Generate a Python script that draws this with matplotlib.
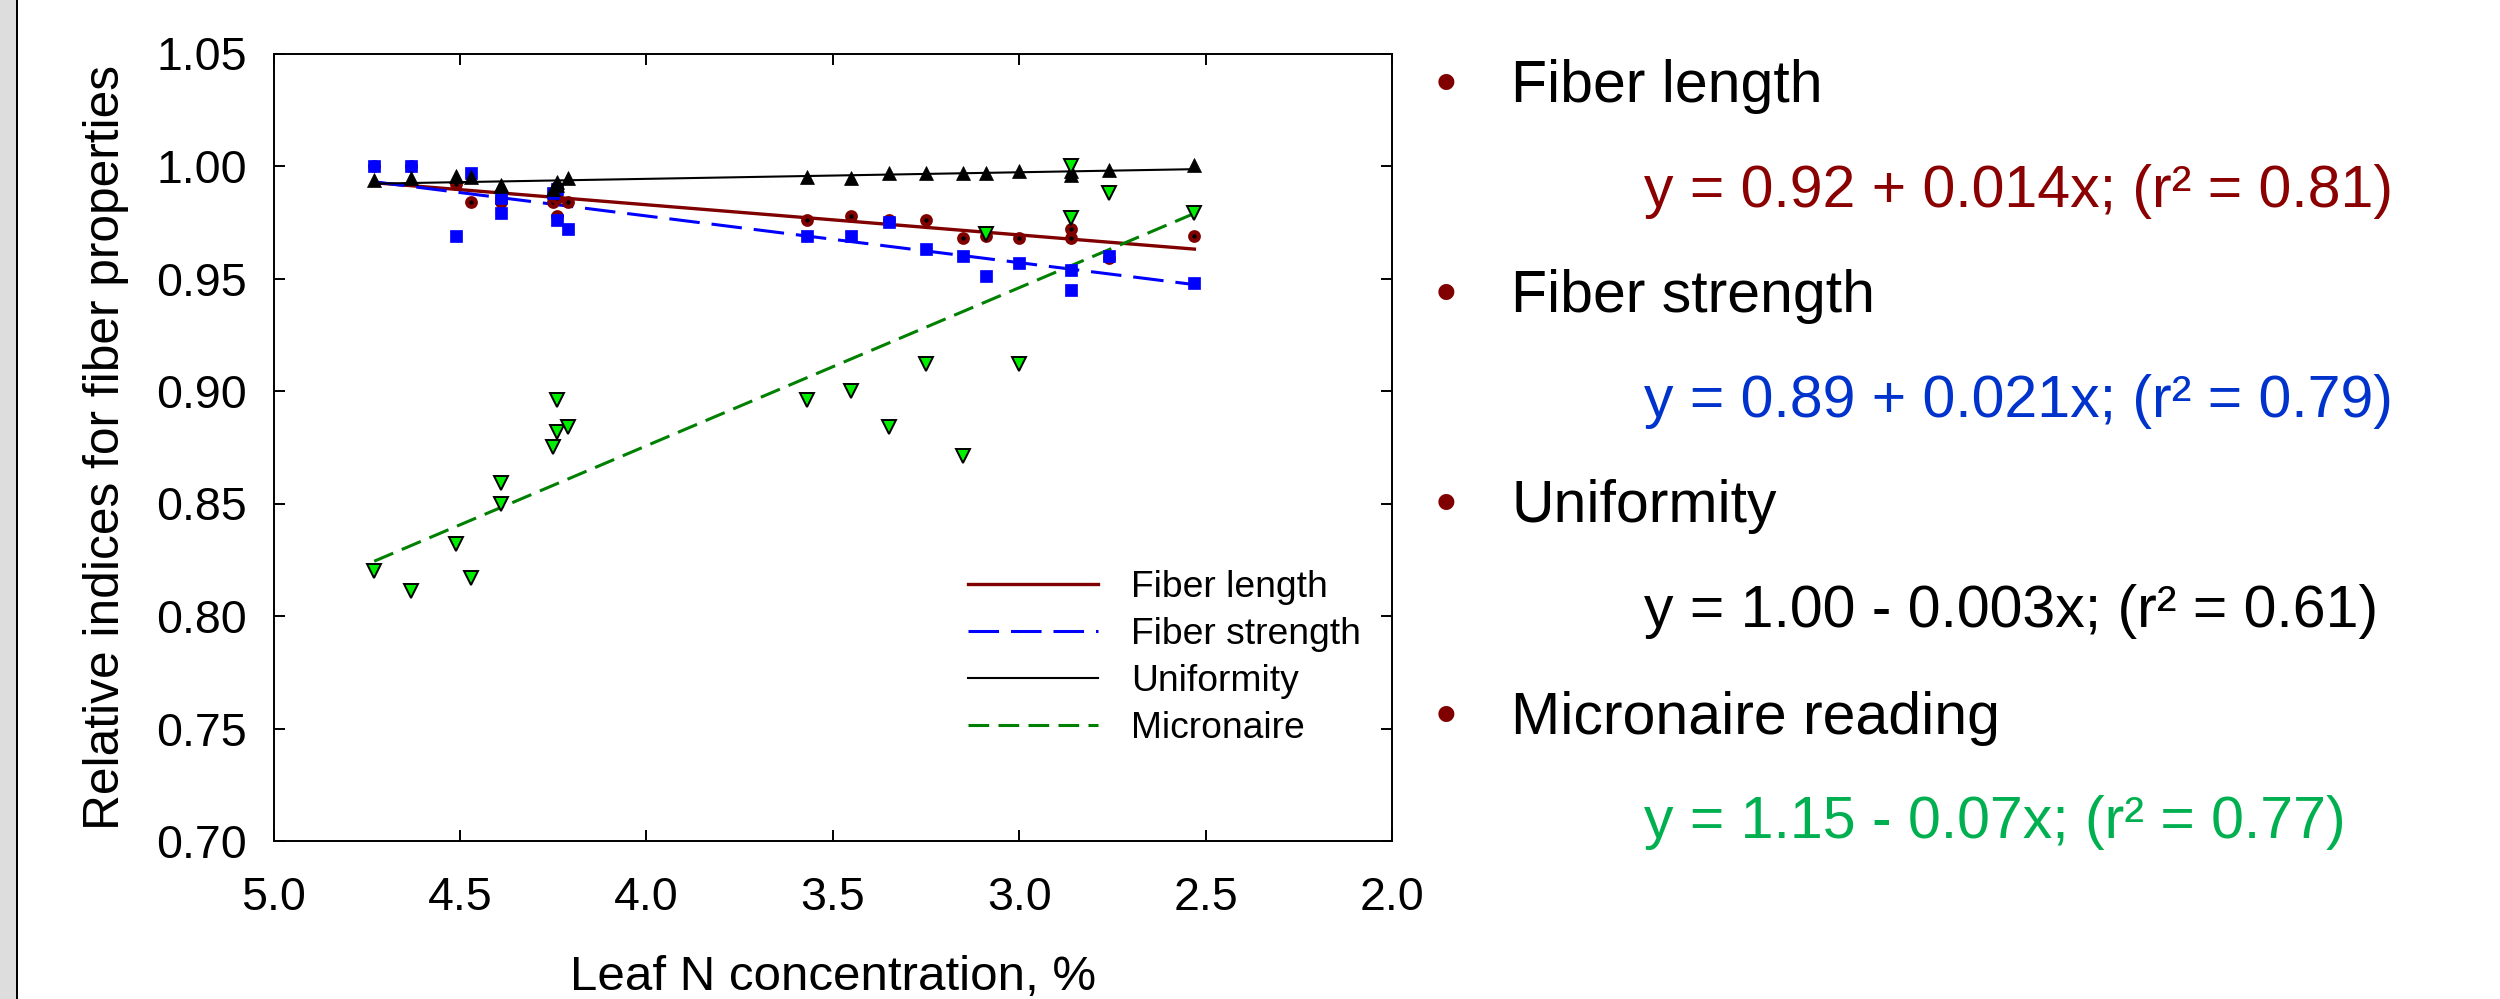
import numpy as np
import matplotlib
matplotlib.use("Agg")
import matplotlib.pyplot as plt
from matplotlib.patches import Rectangle

plt.rcParams['font.family'] = ['Liberation Sans', 'DejaVu Sans']
plt.rcParams['lines.scale_dashes'] = False

# Leaf N concentration (%) and relative fiber property indices
leaf_n = [4.73, 4.63, 4.51, 4.47, 4.39, 4.39, 4.25, 4.24, 4.24, 4.21, 3.57,
          3.45, 3.35, 3.25, 3.15, 3.09, 3.00, 2.86, 2.86, 2.76, 2.53]
fiber_length = [1.000, 1.000, 0.992, 0.984, 0.984, 0.986, 0.984, 0.978, 0.986,
                0.984, 0.976, 0.978, 0.976, 0.976, 0.968, 0.969, 0.968, 0.972,
                0.968, 0.959, 0.969]
fiber_strength = [1.000, 1.000, 0.969, 0.997, 0.979, 0.986, 0.988, 0.976, 0.990,
                  0.972, 0.969, 0.969, 0.975, 0.963, 0.960, 0.951, 0.957, 0.954,
                  0.945, 0.960, 0.948]
uniformity = [0.9936, 0.9945, 0.9956, 0.9950, 0.9910, 0.9915, 0.9900, 0.9928,
              0.9915, 0.9948, 0.9953, 0.9946, 0.9968, 0.9968, 0.9968, 0.9968,
              0.9976, 0.9980, 0.9960, 0.9983, 1.0005]
micronaire = [0.820, 0.811, 0.832, 0.817, 0.859, 0.850, 0.875, 0.896, 0.882,
              0.884, 0.896, 0.900, 0.884, 0.912, 0.871, 0.970, 0.912, 1.000,
              0.977, 0.988, 0.979]

series_names = ["Fiber length", "Fiber strength", "Uniformity", "Micronaire"]
panel_titles = ["Fiber length", "Fiber strength", "Uniformity", "Micronaire reading"]
panel_equations = ["y = 0.92 + 0.014x; (r\u00b2 = 0.81)",
                   "y = 0.89 + 0.021x; (r\u00b2 = 0.79)",
                   "y = 1.00 - 0.003x; (r\u00b2 = 0.61)",
                   "y = 1.15 - 0.07x; (r\u00b2 = 0.77)"]
x_ticks = [5.0, 4.5, 4.0, 3.5, 3.0, 2.5, 2.0]
y_ticks = [0.70, 0.75, 0.80, 0.85, 0.90, 0.95, 1.00, 1.05]

DARK_RED = '#800000'
W, H = 2500, 999
fig = plt.figure(figsize=(W / 100, H / 100), dpi=100)

# slide margin on the left
fig.patches.append(Rectangle((0, 0), 16 / W, 1, transform=fig.transFigure,
                             facecolor='#dddddd', edgecolor='none', zorder=0))
fig.patches.append(Rectangle((16 / W, 0), 1.6 / W, 1, transform=fig.transFigure,
                             facecolor='black', edgecolor='none', zorder=0))

ax = fig.add_axes([273.5 / W, 1 - 841 / H, (1392 - 273.5) / W, (841 - 53.5) / H])
x = np.asarray(leaf_n)

# scatter points
ax.plot(x, fiber_length, ls='none', marker='o', ms=6.2, mfc='black',
        mec=DARK_RED, mew=3.0, zorder=3)
ax.plot(x, fiber_strength, ls='none', marker='s', ms=8.3, mfc='#0000ff',
        mec='#0000ff', mew=0.5, zorder=4)
ax.plot(x, uniformity, ls='none', marker='^', ms=9.6, mfc='black',
        mec='black', mew=0.5, zorder=5)
ax.plot(x, micronaire, ls='none', marker='v', ms=9.4, mfc='#00ee00',
        mec='black', mew=1.4, zorder=6)

# least-squares regression lines over the observed range
xr = np.array([x.max(), x.min()])
styles = [
    dict(color=DARK_RED, lw=2.4, ls='-'),
    dict(color='#0000ff', lw=2.2, dashes=(22, 8.6)),
    dict(color='black', lw=1.5, ls='-'),
    dict(color='#008000', lw=2.2, dashes=(14.9, 6.7)),
]
for yv, name, st in zip([fiber_length, fiber_strength, uniformity, micronaire],
                        series_names, styles):
    coef = np.polyfit(x, yv, 1)
    ax.plot(xr, np.polyval(coef, xr), label=name, zorder=2.5, **st)

ax.set_xlim(5.0, 2.0)
ax.set_ylim(0.70, 1.05)
ax.set_xticks(x_ticks)
ax.set_xticklabels([f"{v:.1f}" for v in x_ticks])
ax.set_yticks(y_ticks)
ax.set_yticklabels([f"{v:.2f}" for v in y_ticks])
ax.tick_params(direction='in', length=7.7, width=1.4, labelsize=33.5,
               top=True, right=True)
ax.tick_params(axis='y', pad=19)
ax.tick_params(axis='x', pad=25)
for s in ax.spines.values():
    s.set_linewidth(1.4)

ax.set_xlabel("Leaf N concentration, %", fontsize=35.5, labelpad=25.5)
ax.set_ylabel("Relative indices for fiber properties", fontsize=35.7, labelpad=20)

leg = ax.legend(loc='center left', bbox_to_anchor=(967.7 / W, 1 - 658 / H),
                bbox_transform=fig.transFigure, frameon=False, fontsize=26.8,
                handlelength=3.5, handletextpad=0.9, labelspacing=0.33,
                borderpad=0, borderaxespad=0)

# equations panel
title_base = [102, 312, 522, 734]
eq_base = [207, 417, 627, 838]
eq_colors = ['#8b0000', '#0033cc', 'black', '#00b050']
for t, e, tb, eb, c in zip(panel_titles, panel_equations, title_base, eq_base, eq_colors):
    fig.text(1446 / W, 1 - (tb - 16) / H, "\u2022", fontsize=42.5, color=DARK_RED,
             ha='center', va='center')
    fig.text(1511 / W, 1 - tb / H, t, fontsize=42.5, color='black',
             ha='left', va='baseline')
    fig.text(1644 / W, 1 - eb / H, e, fontsize=42.5, color=c,
             ha='left', va='baseline')

fig.savefig("out.png", dpi=100)
